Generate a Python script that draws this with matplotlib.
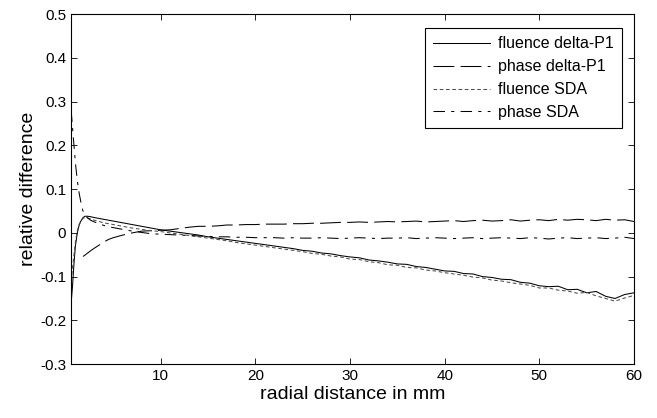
import numpy as np
import matplotlib
matplotlib.use("Agg")
import matplotlib.pyplot as plt

plt.rcParams['font.family'] = ['Liberation Sans', 'DejaVu Sans']

# radial distance (mm)
r = [0.55, 0.7, 0.85, 1.0, 1.2, 1.4, 1.6, 1.8, 2.0, 2.3, 2.6, 3.0, 3.5, 4.0, 4.5, 5, 6, 7, 8, 9,
     10, 11, 12, 13, 14, 15, 16, 17, 18, 19, 20, 21, 22, 23, 24, 25, 26, 27, 28, 29,
     30, 31, 32, 33, 34, 35, 36, 37, 38, 39, 40, 41, 42, 43, 44, 45, 46, 47, 48, 49,
     50, 51, 52, 53, 54, 55, 56, 57, 58, 59, 60]

fluence_dp1 = [-0.16, -0.12, -0.07, -0.03, 0.0, 0.018, 0.028, 0.035, 0.038, 0.038, 0.037, 0.035, 0.033, 0.031, 0.029, 0.027, 0.023, 0.019, 0.015, 0.011,
               0.007, 0.004, 0.001, -0.002, -0.005, -0.009, -0.012, -0.015, -0.018, -0.021,
               -0.024, -0.027, -0.030, -0.033, -0.036, -0.040, -0.042, -0.046, -0.048, -0.052,
               -0.055, -0.057, -0.062, -0.064, -0.067, -0.071, -0.072, -0.077, -0.079, -0.083,
               -0.087, -0.088, -0.093, -0.094, -0.100, -0.102, -0.106, -0.107, -0.113, -0.115,
               -0.121, -0.123, -0.122, -0.130, -0.129, -0.137, -0.134, -0.145, -0.150, -0.141, -0.137]

phase_dp1 = [np.nan, np.nan, np.nan, np.nan, np.nan, np.nan, np.nan, -0.054, -0.051, -0.046, -0.041, -0.035, -0.028, -0.021, -0.015, -0.011, -0.005, 0.0, 0.004, 0.005,
             0.006, 0.007, 0.010, 0.013, 0.015, 0.015, 0.016, 0.018, 0.018, 0.019,
             0.019, 0.020, 0.020, 0.020, 0.021, 0.021, 0.022, 0.022, 0.023, 0.024,
             0.024, 0.025, 0.024, 0.025, 0.026, 0.025, 0.026, 0.027, 0.025, 0.026,
             0.027, 0.028, 0.026, 0.028, 0.029, 0.027, 0.028, 0.030, 0.027, 0.029,
             0.030, 0.028, 0.031, 0.029, 0.031, 0.030, 0.028, 0.031, 0.029, 0.030, 0.026]

fluence_sda = [-0.11, -0.08, -0.05, -0.02, 0.005, 0.02, 0.028, 0.033, 0.035, 0.034, 0.032, 0.029, 0.026, 0.023, 0.021, 0.019, 0.015, 0.011, 0.008, 0.005,
               0.003, 0.0, -0.003, -0.006, -0.009, -0.012, -0.015, -0.018, -0.022, -0.025,
               -0.028, -0.031, -0.034, -0.037, -0.040, -0.043, -0.047, -0.049, -0.053, -0.055,
               -0.060, -0.061, -0.066, -0.068, -0.073, -0.074, -0.079, -0.080, -0.085, -0.087,
               -0.091, -0.094, -0.097, -0.101, -0.103, -0.108, -0.110, -0.114, -0.117, -0.120,
               -0.126, -0.126, -0.131, -0.133, -0.138, -0.136, -0.144, -0.150, -0.156, -0.149, -0.143]

phase_sda = [0.28, 0.24, 0.20, 0.16, 0.12, 0.09, 0.068, 0.05, 0.04, 0.034, 0.029, 0.025, 0.021, 0.017, 0.014, 0.012, 0.008, 0.004, 0.001, -0.002,
             -0.003, -0.004, -0.005, -0.006, -0.007, -0.008, -0.009, -0.009, -0.010, -0.010,
             -0.011, -0.011, -0.011, -0.012, -0.011, -0.012, -0.012, -0.011, -0.012, -0.013,
             -0.012, -0.011, -0.012, -0.013, -0.012, -0.012, -0.011, -0.013, -0.012, -0.011,
             -0.012, -0.013, -0.012, -0.011, -0.013, -0.012, -0.011, -0.012, -0.013, -0.011,
             -0.012, -0.014, -0.012, -0.011, -0.013, -0.012, -0.011, -0.013, -0.012, -0.010, -0.013]

fig = plt.figure(figsize=(6.57, 4.18), dpi=100)
ax = fig.add_axes([0.108, 0.129, 0.857, 0.837])

ax.plot(r, fluence_dp1, color='black', lw=0.75, label='fluence delta-P1')
ax.plot(r, phase_dp1, color='black', lw=0.75, dashes=(20, 6), label='phase delta-P1')
ax.plot(r, fluence_sda, color='0.3', lw=0.75, dashes=(3.5, 2.5), label='fluence SDA')
ax.plot(r, phase_sda, color='black', lw=0.75, dashes=(11, 6, 3, 6), label='phase SDA')

ax.set_xlim(0.53, 60)
ax.set_ylim(-0.3, 0.5)
ax.set_xticks([10, 20, 30, 40, 50, 60])
ax.set_yticks([-0.3, -0.2, -0.1, 0, 0.1, 0.2, 0.3, 0.4, 0.5])
ax.set_yticklabels(['-0.3', '-0.2', '-0.1', '0', '0.1', '0.2', '0.3', '0.4', '0.5'])
ax.tick_params(direction='in', top=True, right=True, length=4, width=0.6, labelsize=11)
for s in ax.spines.values():
    s.set_linewidth(0.8)

ax.set_xlabel('radial distance in mm', fontsize=14, labelpad=2)
ax.set_ylabel('relative difference', fontsize=14, labelpad=2)

leg = ax.legend(loc='upper right', bbox_to_anchor=(0.993, 0.983), fontsize=11.5,
                fancybox=False, edgecolor='black', framealpha=1,
                handlelength=3.6, handletextpad=0.5, labelspacing=0.5, borderpad=0.5)
leg.get_frame().set_linewidth(0.8)

fig.savefig('out.png', dpi=100)
